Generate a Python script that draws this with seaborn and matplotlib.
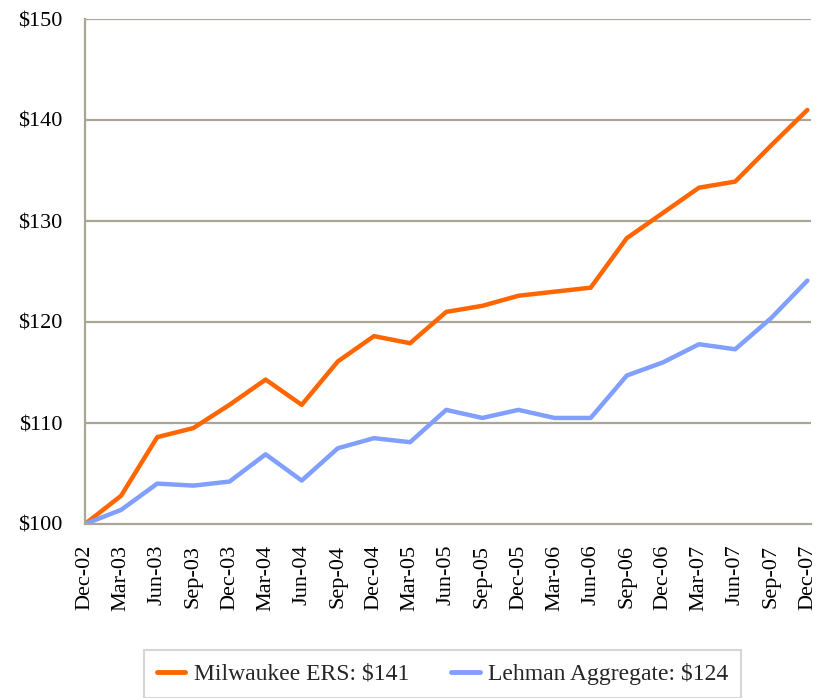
import matplotlib
matplotlib.use("Agg")
import matplotlib.pyplot as plt
import matplotlib.transforms as mtransforms
import seaborn as sns
import pandas as pd

quarters = ["Dec-02", "Mar-03", "Jun-03", "Sep-03", "Dec-03", "Mar-04", "Jun-04",
            "Sep-04", "Dec-04", "Mar-05", "Jun-05", "Sep-05", "Dec-05", "Mar-06",
            "Jun-06", "Sep-06", "Dec-06", "Mar-07", "Jun-07", "Sep-07", "Dec-07"]
milwaukee = [100.0, 102.8, 108.6, 109.5, 111.8, 114.3, 111.8, 116.1, 118.6, 117.9,
             121.0, 121.6, 122.6, 123.0, 123.4, 128.3, 130.8, 133.3, 133.9, 137.5, 141.0]
lehman = [100.0, 101.4, 104.0, 103.8, 104.2, 106.9, 104.3, 107.5, 108.5, 108.1,
          111.3, 110.5, 111.3, 110.5, 110.5, 114.7, 116.0, 117.8, 117.3, 120.4, 124.1]
series_names = ["Milwaukee ERS: $141", "Lehman Aggregate: $124"]
yticks = [100, 110, 120, 130, 140, 150]

df = pd.DataFrame({
    "idx": list(range(len(quarters))) * 2,
    "value": milwaukee + lehman,
    "series": [series_names[0]] * len(quarters) + [series_names[1]] * len(quarters),
})

sns.set_style("white")
plt.rcParams["font.family"] = ["Liberation Serif", "DejaVu Serif"]

grid_c = "#aaa596"
fig = plt.figure(figsize=(8.16, 6.98), dpi=100)
ax = fig.add_axes([85 / 816, 1 - 524 / 698, 726 / 816, 505 / 698])

sns.lineplot(data=df, x="idx", y="value", hue="series",
             palette=["#ff6600", "#809fff"], linewidth=3.2, ax=ax, legend=True)

ax.set_xlim(0, 20.1)
ax.set_ylim(100, 150)
ax.set_yticks(yticks)
ax.set_yticklabels([f"${v}" for v in yticks], fontsize=16)
ax.set_xticks(range(len(quarters)))
ax.set_xticklabels(quarters, rotation=90, fontsize=16)
ax.set_xlabel("")
ax.set_ylabel("")

# keep the last rotated label inside the figure edge
last = ax.get_xticklabels()[-1]
last.set_transform(last.get_transform() +
                   mtransforms.ScaledTranslation(-5 / 100, 0, fig.dpi_scale_trans))

for v in yticks[1:]:
    ax.axhline(v, color=grid_c, lw=1.6, zorder=0)

for s in ["top", "right"]:
    ax.spines[s].set_visible(False)
for s in ["left", "bottom"]:
    ax.spines[s].set_color(grid_c)
    ax.spines[s].set_linewidth(1.6)

ax.tick_params(axis="both", direction="out", length=7, width=1.6, color=grid_c,
               labelcolor="black")
ax.tick_params(axis="y", pad=9)
ax.tick_params(axis="x", pad=8)

handles, labels = ax.get_legend_handles_labels()
leg = fig.legend(handles, labels, loc="upper left",
                 bbox_to_anchor=(144 / 816, 1 - 650 / 698),
                 ncol=2, frameon=True, fancybox=False, fontsize=17,
                 handlelength=1.2, handletextpad=0.35, columnspacing=1.8,
                 borderpad=0.55, borderaxespad=0)
leg.get_frame().set_edgecolor("#cccccc")
leg.get_frame().set_linewidth(1.5)
for line in leg.get_lines():
    line.set_linewidth(3.5)
ax.get_legend().remove()

fig.savefig("out.png", dpi=100)
